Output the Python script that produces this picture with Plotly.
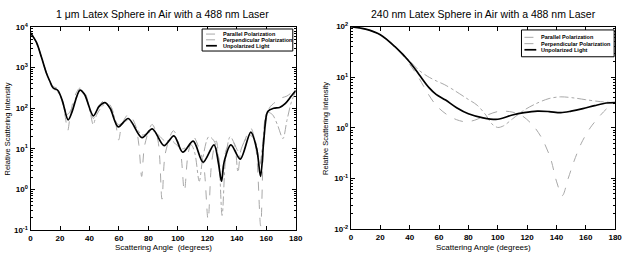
import plotly.graph_objects as go

# ---------------- Left panel: 1 um latex sphere ----------------
L_unpol_deg = [0, 4, 7.4, 10.7, 13, 15.2, 18.5, 21.4, 25.5, 28, 33.5, 36.5, 42.6, 46.4, 50.5, 54, 59.5,
               66.3, 75.6, 82.6, 90.6, 97.3, 103.3, 110.4, 117.1, 124.5, 127.5, 129.6, 131.5, 136, 142.3,
               149.5, 153.5, 156.1, 158.5, 161, 165, 169, 173, 177, 180]
L_unpol = [7200, 4200, 1800, 740, 470, 320, 275, 160, 52, 79, 280, 225, 65, 110, 138, 100, 35,
           56, 19, 31, 12, 21, 8.3, 15.5, 4.7, 12.6, 4.5, 1.6, 5.0, 12.6, 5.6,
           26, 10, 2.1, 20, 83, 100, 105, 132, 200, 275]

L_par_deg = [0, 4, 7.5, 11, 15, 18.5, 21.5, 23.5, 25.2, 27, 30, 33.5, 37, 40, 42.6, 46, 50.5, 54.5, 57.5,
             59.8, 62, 66.5, 71, 73.5, 75.4, 77.5, 82.5, 86.5, 89.2, 91.5, 97, 101.5, 104.4, 107, 110.5,
             114, 117.5, 120.5, 123, 126, 129.5, 133, 137, 141, 144, 149.5, 153, 156.2, 158.5, 162, 166,
             170, 174, 177, 180]
L_par = [7400, 4300, 1800, 720, 355, 300, 140, 63, 28, 71, 200, 315, 240, 100, 56, 112, 158, 112, 50,
         16.6, 40, 71, 40, 12.6, 2.1, 12.6, 40, 15.8, 0.58, 7.9, 28, 10, 0.91, 7.9, 20,
         11.2, 4.0, 0.18, 5.0, 15.8, 2.5, 10, 15.8, 8.9, 12.6, 32, 10, 0.126, 15.8, 100, 141,
         178, 200, 240, 282]

L_perp_deg = [0, 4, 7.5, 11, 15, 18.5, 21.5, 25, 28, 33.5, 37, 40.5, 42.5, 45, 50.5, 55, 59.5, 66, 72,
              75.5, 80, 83, 88, 91, 96, 99, 103, 106, 109, 111.5, 114.5, 117, 121, 124.5, 127.5, 130,
              132.5, 135.5, 138.5, 140.8, 143, 148.5, 152.5, 155.5, 157.5, 160.5, 164, 167.5, 171.3,
              174, 177, 180]
L_perp = [7100, 4000, 1740, 710, 316, 250, 158, 71, 100, 263, 200, 79, 40, 71, 126, 89, 40, 50, 32,
          22, 25, 28, 20, 15.8, 15.8, 12.6, 10, 11.2, 12.6, 7.9, 1.6, 6.3, 20, 15.8, 6.3, 0.23,
          6.3, 20, 12.6, 2.7, 10, 22, 15.8, 4.0, 12.6, 79, 71, 40, 18,
          50, 141, 263]

# ---------------- Right panel: 240 nm latex sphere ----------------
R_unpol_deg = [0, 10, 20, 30, 40, 46.5, 53, 58, 64.5, 72, 80, 90, 100, 110, 118, 127, 135, 143, 150,
               158, 166, 174, 180]
R_unpol = [100, 89, 69, 40, 20, 11.2, 6.3, 4.6, 3.55, 2.5, 1.9, 1.58, 1.48, 1.8, 2.0, 2.14, 2.1, 2.0,
           2.14, 2.4, 2.75, 3.1, 3.16]

R_par_deg = [0, 10, 20, 30, 40, 46, 52, 58, 65, 72, 78, 84, 90, 100, 108, 116, 124, 130, 136, 140,
             144, 148, 152, 157, 163, 170, 175, 180]
R_par = [100, 89, 69, 40, 18, 10, 5.0, 2.8, 1.86, 1.45, 1.32, 1.41, 1.66, 2.1, 2.1, 1.78, 1.12, 0.63,
         0.25, 0.089, 0.046, 0.1, 0.22, 0.5, 1.0, 1.78, 2.5, 3.16]

R_perp_deg = [0, 10, 20, 30, 40, 46, 52, 58, 63.5, 70, 79, 86, 92, 96, 100, 104, 110, 118, 126, 135,
              143, 152, 160, 170, 180]
R_perp = [100, 89, 69, 40, 21, 14, 10.5, 8.5, 7.2, 5.6, 3.8, 2.8, 1.78, 1.2, 1.02, 1.1, 1.5, 2.24,
          3.0, 3.8, 4.1, 3.9, 3.6, 3.3, 3.16]

x_ticks = [0, 20, 40, 60, 80, 100, 120, 140, 160, 180]
L_yticks = [0.1, 1, 10, 100, 1000, 10000]
L_ytext = ["10<sup>-1</sup>", "10<sup>0</sup>", "10<sup>1</sup>", "10<sup>2</sup>", "10<sup>3</sup>", "10<sup>4</sup>"]
R_yticks = [0.01, 0.1, 1, 10, 100]
R_ytext = ["10<sup>-2</sup>", "10<sup>-1</sup>", "10<sup>0</sup>", "10<sup>1</sup>", "10<sup>2</sup>"]

titles = ["1 μm Latex Sphere in Air with a 488 nm Laser", "240 nm Latex Sphere in Air with a 488 nm Laser"]
xtitles = ["Scattering Angle &nbsp;(degrees)", "Scattering Angle (degrees)"]
ytitle = "Relative Scattering Intensity"
legend_names = ["Parallel Polarization", "Perpendicular Polarization", "Unpolarized Light"]

W, H = 631, 261
FONT = "Liberation Sans, Arial, sans-serif"
GRAY = "#a8a8a8"


def px(x):
    return x / W


def py(y):
    return 1 - y / H


fig = go.Figure()

styles = [dict(color=GRAY, width=1, dash="dash"),
          dict(color=GRAY, width=1, dash="dashdot"),
          dict(color="black", width=1.7, dash="solid")]

for (xs, ys), st in zip([(L_par_deg, L_par), (L_perp_deg, L_perp), (L_unpol_deg, L_unpol)], styles):
    fig.add_trace(go.Scatter(x=xs, y=ys, mode="lines", line=dict(shape="spline", smoothing=0.9, **st),
                             xaxis="x", yaxis="y", showlegend=False, hoverinfo="skip"))
for (xs, ys), st in zip([(R_par_deg, R_par), (R_perp_deg, R_perp), (R_unpol_deg, R_unpol)], styles):
    fig.add_trace(go.Scatter(x=xs, y=ys, mode="lines", line=dict(shape="spline", smoothing=0.9, **st),
                             xaxis="x2", yaxis="y2", showlegend=False, hoverinfo="skip"))


def minor_vals(lo, hi):
    vals = []
    for e in range(lo, hi):
        for m in range(2, 10):
            vals.append(m * 10 ** e)
    return vals


axis_common = dict(showline=True, linecolor="black", linewidth=1.3, mirror="ticks", ticks="inside",
                   ticklen=4, tickcolor="black", showgrid=False, zeroline=False,
                   tickfont=dict(family=FONT, size=8, color="black", weight="bold"))

fig.update_layout(
    width=W, height=H, margin=dict(l=0, r=0, t=0, b=0),
    paper_bgcolor="white", plot_bgcolor="white",
    xaxis=dict(domain=[px(29), px(298)], range=[0, 180], tickvals=x_ticks, anchor="y", **axis_common),
    yaxis=dict(domain=[py(234), py(22)], type="log", range=[-1, 4], tickvals=L_yticks, ticktext=L_ytext,
               anchor="x",
               minor=dict(tickmode="array", tickvals=minor_vals(-1, 4), ticks="inside", ticklen=2,
                          tickcolor="black", showgrid=False),
               **axis_common),
    xaxis2=dict(domain=[px(354), px(622)], range=[0, 180], tickvals=x_ticks, anchor="y2", **axis_common),
    yaxis2=dict(domain=[py(233), py(21.5)], type="log", range=[-2, 2], tickvals=R_yticks, ticktext=R_ytext,
                anchor="x2",
                minor=dict(tickmode="array", tickvals=minor_vals(-2, 2), ticks="inside", ticklen=2,
                           tickcolor="black", showgrid=False),
                **axis_common),
)

ann = []
# titles
for t, cx in zip(titles, [163, 488]):
    ann.append(dict(text=t, x=px(cx), y=py(8), xref="paper", yref="paper", showarrow=False,
                    xanchor="center", yanchor="middle", font=dict(family=FONT, size=10.5, color="black")))
# x titles
for t, cx in zip(xtitles, [164, 488]):
    ann.append(dict(text=t, x=px(cx), y=py(252), xref="paper", yref="paper", showarrow=False,
                    xanchor="center", yanchor="middle", font=dict(family=FONT, size=8, color="black")))
# y titles
for cx in [6, 328]:
    ann.append(dict(text=ytitle, x=px(cx), y=py(128), xref="paper", yref="paper", showarrow=False,
                    textangle=-90, xanchor="center", yanchor="middle",
                    font=dict(family=FONT, size=7.5, color="black")))

shapes = []
# legends (box, sample lines, labels)
legends = [dict(box=(203, 24, 295, 47), rows=(29.3, 35.3, 41.5), lx=(207, 218), tx=222),
           dict(box=(527, 25, 621, 53), rows=(32.7, 39.3, 45.7), lx=(530, 542), tx=545)]
for lg in legends:
    x0, y0, x1, y1 = lg["box"]
    shapes.append(dict(type="rect", xref="paper", yref="paper", x0=px(x0), y0=py(y0), x1=px(x1), y1=py(y1),
                       line=dict(color="black", width=1), fillcolor="white", layer="above"))
    for name, ry, st in zip(legend_names, lg["rows"], styles):
        shapes.append(dict(type="line", xref="paper", yref="paper", x0=px(lg["lx"][0]), x1=px(lg["lx"][1]),
                           y0=py(ry), y1=py(ry), line=dict(color=st["color"], width=st["width"], dash=st["dash"]),
                           layer="above"))
        ann.append(dict(text=name, x=px(lg["tx"]), y=py(ry), xref="paper", yref="paper", showarrow=False,
                        xanchor="left", yanchor="middle",
                        font=dict(family=FONT, size=5.5, color="black", weight="bold")))

fig.update_layout(annotations=ann, shapes=shapes)
fig.write_html("out.html")
